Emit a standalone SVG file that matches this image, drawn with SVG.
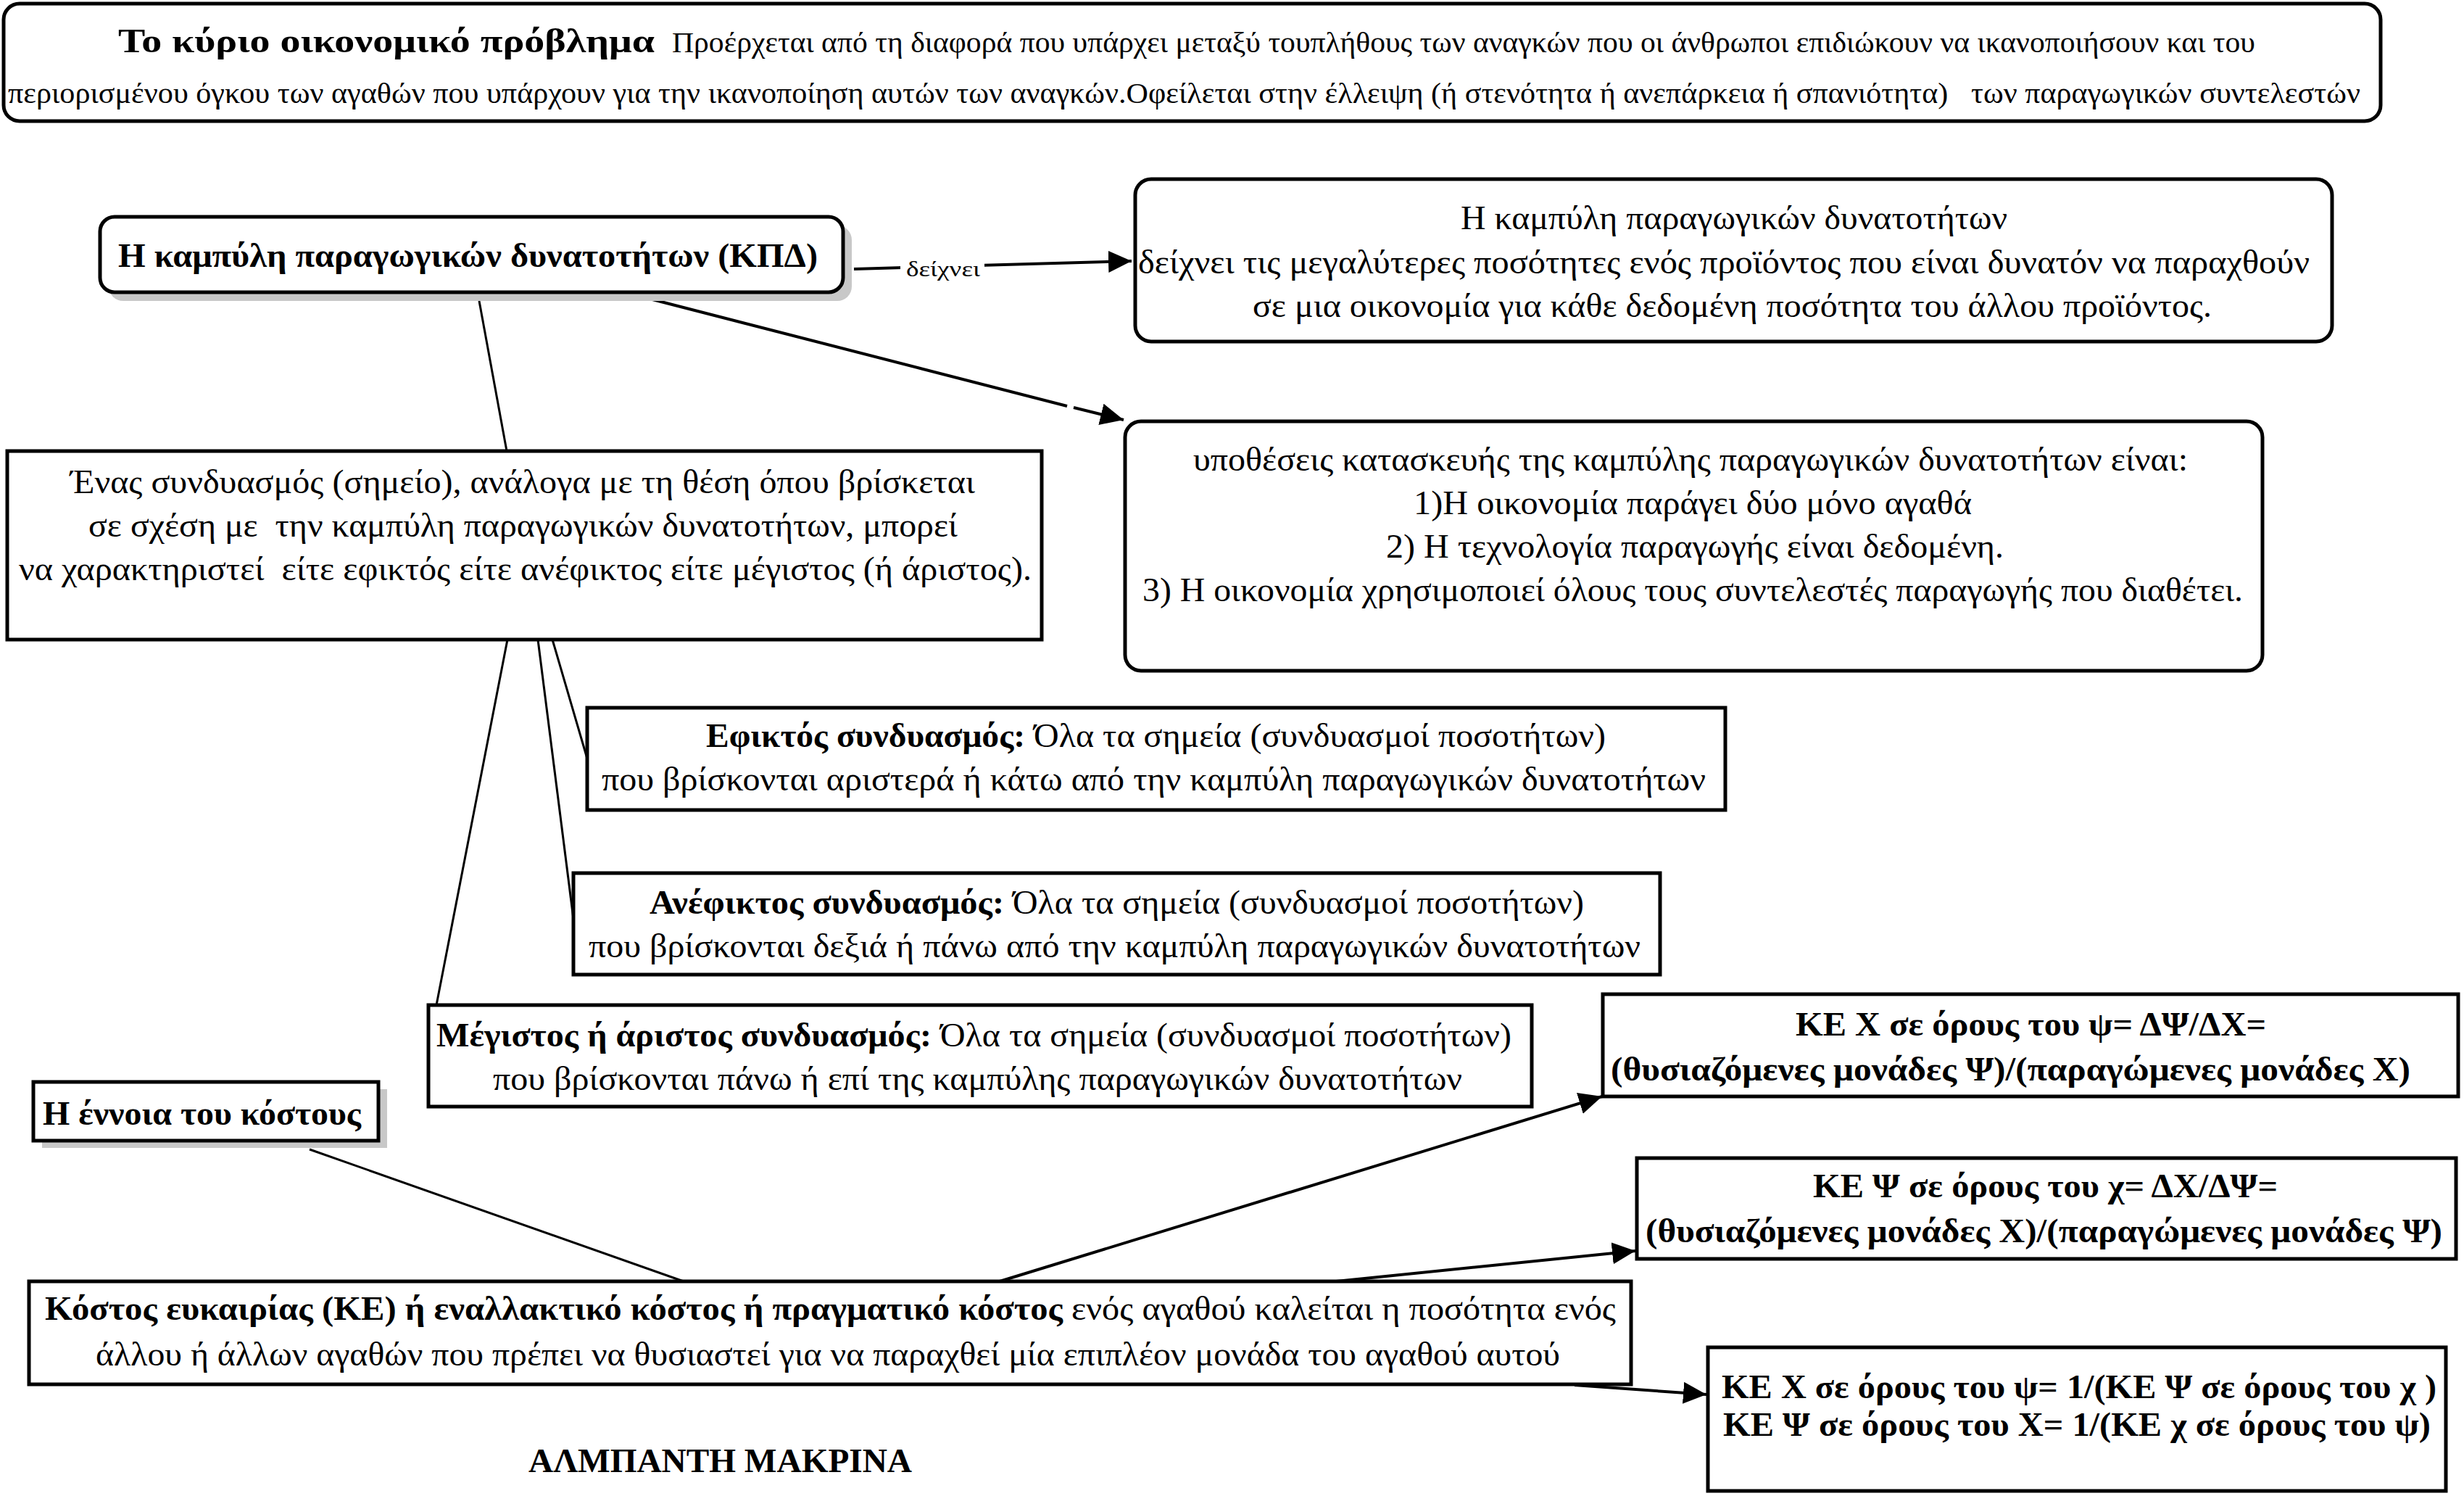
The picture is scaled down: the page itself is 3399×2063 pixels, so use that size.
<svg xmlns="http://www.w3.org/2000/svg" width="3399" height="2063" viewBox="0 0 3399 2063">
<defs>
<style>
text{font-family:"Liberation Serif","DejaVu Serif",serif;fill:#000;white-space:pre}
.r{font-size:46px}
.b{font-size:46px;font-weight:bold}
.t{font-size:41px}
.box{fill:#fff;stroke:#000;stroke-width:5}
.shadow{fill:#c8c8c8;stroke:none}
.c{stroke:#000;fill:none}
.thin{stroke-width:3}
.thick{stroke-width:4}
</style>
<marker id="ah" markerUnits="userSpaceOnUse" markerWidth="34" markerHeight="32" refX="32" refY="15" orient="auto" viewBox="0 0 34 32">
<path d="M0,0 L32,15 L0,30 z" fill="#000"/>
</marker>
</defs>
<rect width="3399" height="2063" fill="#fff"/>

<g id="connectors">
<line class="c thick" x1="1178" y1="371" x2="1561" y2="360" marker-end="url(#ah)"/>
<line class="c thick" x1="900" y1="413" x2="1472" y2="560"/>
<line class="c thick" x1="1481" y1="562" x2="1550" y2="579" marker-end="url(#ah)"/>
<line class="c thin" x1="661" y1="415" x2="699" y2="622"/>
<line class="c thin" x1="762" y1="882" x2="810" y2="1046"/>
<line class="c thin" x1="742" y1="882" x2="791" y2="1267"/>
<line class="c thin" x1="700" y1="882" x2="602" y2="1386"/>
<line class="c thin" x1="427" y1="1585" x2="943" y2="1767"/>
<line class="c thick" x1="1379" y1="1767" x2="2210" y2="1512" marker-end="url(#ah)"/>
<line class="c thick" x1="1843" y1="1767" x2="2256" y2="1725" marker-end="url(#ah)"/>
<line class="c thick" x1="2172" y1="1910" x2="2354" y2="1923" marker-end="url(#ah)"/>
</g>

<g id="label-deixnei">
<rect x="1242" y="350" width="116" height="40" fill="#fff"/>
<text x="1250" y="381" font-size="29" textLength="102" lengthAdjust="spacingAndGlyphs">δείχνει</text>
</g>

<g id="node-problem">
<rect class="box" x="5" y="5" width="3279" height="162" rx="22"/>
<text class="b" x="163" y="72" font-size="54" textLength="740" lengthAdjust="spacingAndGlyphs">Το κύριο οικονομικό πρόβλημα</text>
<text class="t" x="927" y="72" textLength="2184" lengthAdjust="spacingAndGlyphs">Προέρχεται από τη διαφορά που υπάρχει μεταξύ τουπλήθους των αναγκών που οι άνθρωποι επιδιώκουν να ικανοποιήσουν και του</text>
<text class="t" x="11" y="142" textLength="3245" lengthAdjust="spacingAndGlyphs">περιορισμένου όγκου των αγαθών που υπάρχουν για την ικανοποίηση αυτών των αναγκών.Οφείλεται στην έλλειψη (ή στενότητα ή ανεπάρκεια ή σπανιότητα)   των παραγωγικών συντελεστών</text>
</g>

<g id="node-kpd">
<rect class="shadow" x="150" y="311" width="1025" height="104" rx="20"/>
<rect class="box" x="138" y="299" width="1025" height="104" rx="20"/>
<text class="b" x="163" y="368" textLength="965" lengthAdjust="spacingAndGlyphs">Η καμπύλη παραγωγικών δυνατοτήτων (ΚΠΔ)</text>
</g>

<g id="node-definition">
<rect class="box" x="1566" y="247" width="1651" height="224" rx="22"/>
<text class="r" x="2015" y="316" textLength="754" lengthAdjust="spacingAndGlyphs">Η καμπύλη παραγωγικών δυνατοτήτων</text>
<text class="r" x="1570" y="377" textLength="1616" lengthAdjust="spacingAndGlyphs">δείχνει τις μεγαλύτερες ποσότητες ενός προϊόντος που είναι δυνατόν να παραχθούν</text>
<text class="r" x="1728" y="437" textLength="1323" lengthAdjust="spacingAndGlyphs">σε μια οικονομία για κάθε δεδομένη ποσότητα του άλλου προϊόντος.</text>
</g>

<g id="node-assumptions">
<rect class="box" x="1552" y="581" width="1569" height="344" rx="22"/>
<text class="r" x="1646" y="649" textLength="1372" lengthAdjust="spacingAndGlyphs">υποθέσεις κατασκευής της καμπύλης παραγωγικών δυνατοτήτων είναι:</text>
<text class="r" x="1950" y="709" textLength="770" lengthAdjust="spacingAndGlyphs">1)Η οικονομία παράγει δύο μόνο αγαθά</text>
<text class="r" x="1912" y="769" textLength="852" lengthAdjust="spacingAndGlyphs">2) Η τεχνολογία παραγωγής είναι δεδομένη.</text>
<text class="r" x="1576" y="829" textLength="1518" lengthAdjust="spacingAndGlyphs">3) Η οικονομία χρησιμοποιεί όλους τους συντελεστές παραγωγής που διαθέτει.</text>
</g>

<g id="node-combination">
<rect class="box" x="10" y="622" width="1427" height="260"/>
<text class="r" x="97" y="680" textLength="1248" lengthAdjust="spacingAndGlyphs">Ένας συνδυασμός (σημείο), ανάλογα με τη θέση όπου βρίσκεται</text>
<text class="r" x="122" y="740" textLength="1199" lengthAdjust="spacingAndGlyphs">σε σχέση με  την καμπύλη παραγωγικών δυνατοτήτων, μπορεί</text>
<text class="r" x="26" y="800" textLength="1397" lengthAdjust="spacingAndGlyphs">να χαρακτηριστεί  είτε εφικτός είτε ανέφικτος είτε μέγιστος (ή άριστος).</text>
</g>

<g id="node-attainable">
<rect class="box" x="810" y="976" width="1570" height="141"/>
<text class="b" x="974" y="1030" textLength="440" lengthAdjust="spacingAndGlyphs">Εφικτός συνδυασμός:</text>
<text class="r" x="1426" y="1030" textLength="789" lengthAdjust="spacingAndGlyphs">Όλα τα σημεία (συνδυασμοί ποσοτήτων)</text>
<text class="r" x="830" y="1090" textLength="1523" lengthAdjust="spacingAndGlyphs">που βρίσκονται αριστερά ή κάτω από την καμπύλη παραγωγικών δυνατοτήτων</text>
</g>

<g id="node-unattainable">
<rect class="box" x="791" y="1204" width="1499" height="140"/>
<text class="b" x="896" y="1260" textLength="489" lengthAdjust="spacingAndGlyphs">Ανέφικτος συνδυασμός:</text>
<text class="r" x="1397" y="1260" textLength="788" lengthAdjust="spacingAndGlyphs">Όλα τα σημεία (συνδυασμοί ποσοτήτων)</text>
<text class="r" x="812" y="1320" textLength="1451" lengthAdjust="spacingAndGlyphs">που βρίσκονται δεξιά ή πάνω από την καμπύλη παραγωγικών δυνατοτήτων</text>
</g>

<g id="node-maximum">
<rect class="box" x="591" y="1386" width="1522" height="140"/>
<text class="b" x="602" y="1443" textLength="683" lengthAdjust="spacingAndGlyphs">Μέγιστος ή άριστος συνδυασμός:</text>
<text class="r" x="1297" y="1443" textLength="788" lengthAdjust="spacingAndGlyphs">Όλα τα σημεία (συνδυασμοί ποσοτήτων)</text>
<text class="r" x="680" y="1503" textLength="1337" lengthAdjust="spacingAndGlyphs">που βρίσκονται πάνω ή επί της καμπύλης παραγωγικών δυνατοτήτων</text>
</g>

<g id="node-cost-concept">
<rect class="shadow" x="58" y="1502" width="476" height="81"/>
<rect class="box" x="46" y="1492" width="476" height="81"/>
<text class="b" x="59" y="1551" textLength="439" lengthAdjust="spacingAndGlyphs">Η έννοια του κόστους</text>
</g>

<g id="node-opportunity-cost">
<rect class="box" x="40" y="1767" width="2210" height="142"/>
<text class="b" x="62" y="1820" textLength="1404" lengthAdjust="spacingAndGlyphs">Κόστος ευκαιρίας (ΚΕ) ή εναλλακτικό κόστος ή πραγματικό κόστος</text>
<text class="r" x="1478" y="1820" textLength="751" lengthAdjust="spacingAndGlyphs">ενός αγαθού καλείται η ποσότητα ενός</text>
<text class="r" x="132" y="1883" textLength="2020" lengthAdjust="spacingAndGlyphs">άλλου ή άλλων αγαθών που πρέπει να θυσιαστεί για να παραχθεί μία επιπλέον μονάδα του αγαθού αυτού</text>
</g>

<g id="node-ke-x">
<rect class="box" x="2211" y="1371" width="1180" height="141"/>
<text class="b" x="2477" y="1428" textLength="649" lengthAdjust="spacingAndGlyphs">ΚΕ Χ σε όρους του ψ= ΔΨ/ΔΧ=</text>
<text class="b" x="2222" y="1490" textLength="1103" lengthAdjust="spacingAndGlyphs">(θυσιαζόμενες μονάδες Ψ)/(παραγώμενες μονάδες Χ)</text>
</g>

<g id="node-ke-y">
<rect class="box" x="2258" y="1597" width="1130" height="139"/>
<text class="b" x="2501" y="1651" textLength="641" lengthAdjust="spacingAndGlyphs">ΚΕ Ψ σε όρους του χ= ΔΧ/ΔΨ=</text>
<text class="b" x="2270" y="1713" textLength="1099" lengthAdjust="spacingAndGlyphs">(θυσιαζόμενες μονάδες Χ)/(παραγώμενες μονάδες Ψ)</text>
</g>

<g id="node-ke-reciprocal">
<rect class="box" x="2356" y="1858" width="1018" height="198"/>
<text class="b" x="2375" y="1928" textLength="986" lengthAdjust="spacingAndGlyphs">ΚΕ Χ σε όρους του ψ= 1/(ΚΕ Ψ σε όρους του χ )</text>
<text class="b" x="2377" y="1980" textLength="976" lengthAdjust="spacingAndGlyphs">ΚΕ Ψ σε όρους του Χ= 1/(ΚΕ χ σε όρους του ψ)</text>
</g>

<g id="author">
<text class="b" x="729" y="2030" textLength="529" lengthAdjust="spacingAndGlyphs">ΑΛΜΠΑΝΤΗ ΜΑΚΡΙΝΑ</text>
</g>
</svg>
